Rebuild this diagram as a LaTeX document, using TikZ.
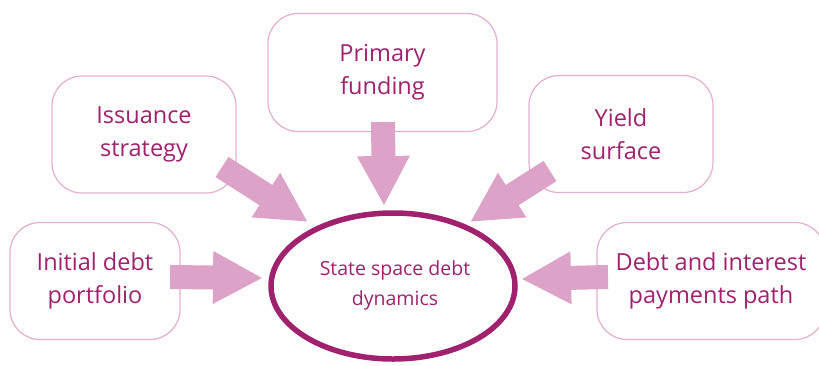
\documentclass[tikz,border=0pt]{standalone}
\usepackage{fontspec}
\newfontfamily\labfont{Open Sans}
\usetikzlibrary{arrows.meta}
\definecolor{txt}{HTML}{A0226E}
\definecolor{boxline}{HTML}{E3AED2}
\definecolor{flowc}{HTML}{DDA2C8}
\definecolor{ring}{HTML}{A0226E}
\begin{document}
\begin{tikzpicture}[x=1pt,y=-1pt,
  box/.style={draw=boxline, line width=1.2pt, rounded corners=30pt,
    text=txt, align=center, inner sep=0pt,
    font=\labfont\fontsize{23.5}{33}\selectfont},
  flow/.style={draw=flowc, line width=24pt,
    -{Triangle[length=50pt,width=49pt]}}]
\clip (0,0) rectangle (819,365);
\fill[white] (0,0) rectangle (819,365);

% input boxes
\node[box, minimum width=184pt, minimum height=117pt] (iss) at (144,134.5) {Issuance\\strategy};
\node[box, minimum width=229pt, minimum height=118pt] (prim) at (382.5,72.5) {Primary\\funding};
\node[box, minimum width=184pt, minimum height=117pt] (yld) at (621,134) {Yield\\surface};
\node[box, minimum width=170pt, minimum height=117pt] (init) at (95,281) {Initial debt\\portfolio};
\node[box, minimum width=228pt, minimum height=117pt] (path) at (711,281) {Debt and interest\\payments path};

% central state
\draw[ring, line width=5.5pt] (393,286) ellipse [x radius=122pt, y radius=73pt];
\node[text=txt, align=center, font=\labfont\fontsize{19.5}{30}\selectfont] (core) at (395,285) {State space debt\\dynamics};

% arrow anchors
\coordinate (iss-o) at (222,167);
\coordinate (iss-i) at (308,222);
\coordinate (prim-o) at (383,122);
\coordinate (prim-i) at (384,206);
\coordinate (yld-o) at (550,171);
\coordinate (yld-i) at (470,222);
\coordinate (init-o) at (170,277);
\coordinate (init-i) at (263,278);
\coordinate (path-o) at (608,277);
\coordinate (path-i) at (521,279);

\draw[flow] (iss-o) -- (iss-i);
\draw[flow] (prim-o) -- (prim-i);
\draw[flow] (yld-o) -- (yld-i);
\draw[flow] (init-o) -- (init-i);
\draw[flow] (path-o) -- (path-i);
\end{tikzpicture}
\end{document}
